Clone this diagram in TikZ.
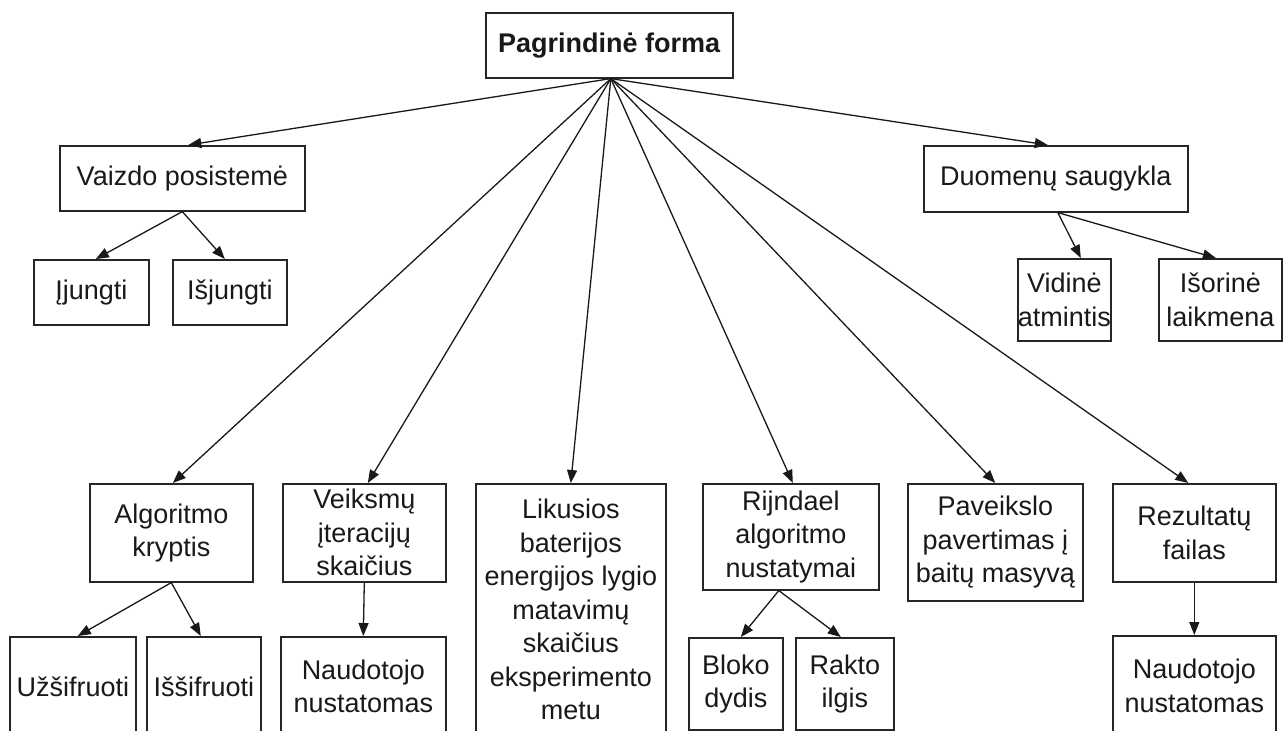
\documentclass[tikz,border=0pt]{standalone}
\usepackage{fontspec}
\setmainfont{Liberation Sans}
\usetikzlibrary{arrows.meta}
\begin{document}
\begin{tikzpicture}[x=1pt,y=-1pt,
  box/.style={draw=black!85, line width=1.6pt, fill=white, anchor=north west,
    inner sep=0pt, align=center, text=black!90,
    font=\fontsize{27}{33.5}\selectfont},
  link/.style={draw=black!90, line width=1.3pt,
    -{Triangle[length=13pt,width=10pt]}}]
\useasboundingbox (0,0) rectangle (1283,731);
\fill[white] (0,0) rectangle (1283,731);
\clip (0,0) rectangle (1283,731);

% root
\node[box, minimum width=247pt, minimum height=65pt] (top) at (485,12) {\textbf{Pagrindinė forma}};

% upper branches
\node[box, minimum width=245pt, minimum height=65pt] (vaizdo) at (59,145) {Vaizdo posistemė};
\node[box, minimum width=115pt, minimum height=65pt] (ijungti) at (33,259) {Įjungti};
\node[box, minimum width=114pt, minimum height=65pt] (isjungti) at (172,259) {Išjungti};

\node[box, minimum width=264pt, minimum height=66pt] (duomenu) at (923,145) {Duomenų saugykla};
\node[box, minimum width=83pt, minimum height=82pt] (vidine) at (1017,258) {Vidinė\\atmintis};
\node[box, minimum width=123pt, minimum height=82pt] (isorine) at (1158,258) {Išorinė\\laikmena};

% lower branches
\node[box, minimum width=163pt, minimum height=98pt] (algoritmo) at (89,483) {Algoritmo\\kryptis};
\node[box, minimum width=126pt, minimum height=99pt] (uzsifruoti) at (9,636) {Užšifruoti};
\node[box, minimum width=114pt, minimum height=99pt] (issifruoti) at (146,636) {Iššifruoti};

\node[box, minimum width=163pt, minimum height=98pt] (veiksmu) at (282,483) {Veiksmų\\įteracijų\\skaičius};
\node[box, minimum width=165pt, minimum height=99pt] (naud1) at (280,636) {Naudotojo\\nustatomas};

\node[box, minimum width=190pt, minimum height=252pt] (likusios) at (475,483) {Likusios\\baterijos\\energijos lygio\\matavimų\\skaičius\\eksperimento\\metu};

\node[box, minimum width=176pt, minimum height=106pt] (rijndael) at (702,483) {Rijndael\\algoritmo\\nustatymai};
\node[box, minimum width=94pt, minimum height=92pt] (bloko) at (688,637) {Bloko\\dydis};
\node[box, minimum width=98pt, minimum height=92pt] (rakto) at (795,637) {Rakto\\ilgis};

\node[box, minimum width=175pt, minimum height=117pt] (paveikslo) at (907,483) {Paveikslo\\pavertimas į\\baitų masyvą};

\node[box, minimum width=163pt, minimum height=98pt] (rezultatu) at (1112,483) {Rezultatų\\failas};
\node[box, minimum width=163pt, minimum height=100pt] (naud2) at (1112,635) {Naudotojo\\nustatomas};

% connectors from the root
\draw[link] ([xshift=1.5pt]top.south) -- ([xshift=6pt]vaizdo.north);
\draw[link] ([xshift=1.5pt]top.south) -- ([xshift=-8pt]duomenu.north);
\draw[link] ([xshift=1.5pt]top.south) -- ([xshift=1.5pt]algoritmo.north);
\draw[link] ([xshift=1.5pt]top.south) -- ([xshift=3.5pt]veiksmu.north);
\draw[link] ([xshift=1.5pt]top.south) -- (likusios.north);
\draw[link] ([xshift=1.5pt]top.south) -- ([xshift=2pt]rijndael.north);
\draw[link] ([xshift=1.5pt]top.south) -- (paveikslo.north);
\draw[link] ([xshift=1.5pt]top.south) -- ([xshift=-6pt]rezultatu.north);

% second level connectors
\draw[link] (vaizdo.south) -- ([xshift=4.5pt]ijungti.north);
\draw[link] (vaizdo.south) -- ([xshift=-5pt]isjungti.north);
\draw[link] ([xshift=2pt]duomenu.south) -- ([xshift=16.5pt]vidine.north);
\draw[link] ([xshift=2pt]duomenu.south) -- ([xshift=-4.5pt]isorine.north);
\draw[link] (algoritmo.south) -- ([xshift=5pt]uzsifruoti.north);
\draw[link] (algoritmo.south) -- ([xshift=-3pt]issifruoti.north);
\draw[link] (veiksmu.south) -- (naud1.north);
\draw[link] ([xshift=-12pt]rijndael.south) -- ([xshift=5pt]bloko.north);
\draw[link] ([xshift=-12pt]rijndael.south) -- ([xshift=-4pt]rakto.north);
\draw[link] (rezultatu.south) -- (naud2.north);
\end{tikzpicture}
\end{document}
